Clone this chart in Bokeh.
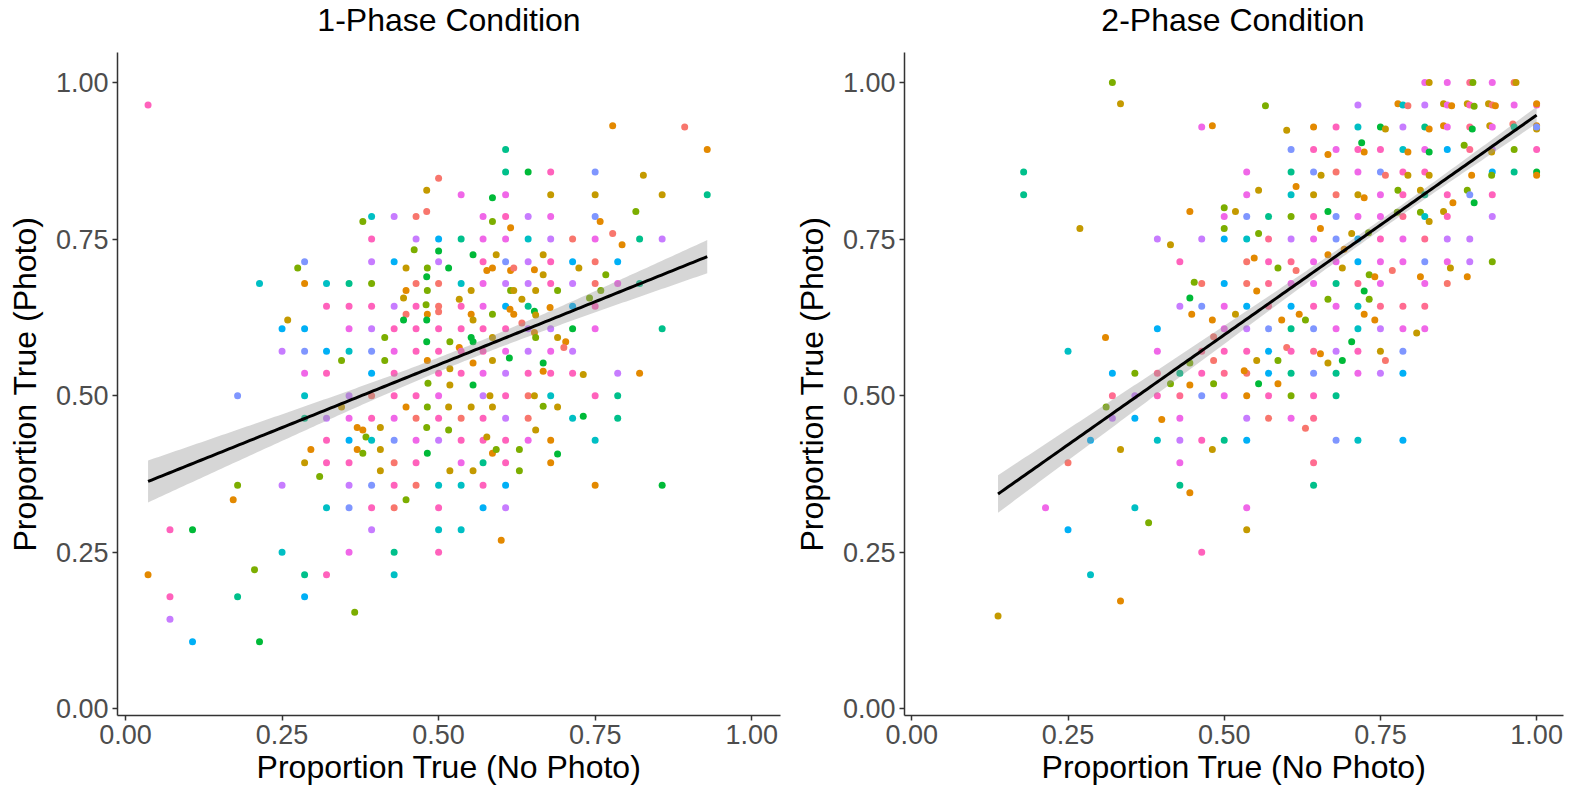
import numpy as np
from bokeh.plotting import figure
from bokeh.layouts import row, column
from bokeh.models import Range1d, FixedTicker, PrintfTickFormatter
from bokeh.core.properties import value
from bokeh.embed import file_html
from bokeh.resources import INLINE

# Axis ticks shared by both panels
tick_values = [0.0, 0.25, 0.5, 0.75, 1.0]

# ---- 1-Phase condition: proportion judged true without / with photo ----
one_phase_x = [
    .036, .286, .275, .214, .286, .321, .321, .259, .25, .286,
    .25, .286, .321, .286, .321, .179, .286, .286, .321, .321,
    .296, .286, .321, .310, .179, .25, .172, .321, .071, .107,
    .25, .036, .206, .286, .321, .071, .179, .286, .071, .107,
    .214, .5, .607, .607, .643, .481, .536, .586, .607, .481,
    .379, .393, .429, .464, .571, .586, .607, .643, .615, .393,
    .464, .5, .536, .571, .607, .643, .461, .5, .555, .592,
    .393, .429, .448, .482, .5, .516, .571, .607, .643, .577,
    .586, .615, .62, .481, .357, .393, .464, .5, .536, .571,
    .607, .643, .448, .482, .552, .615, .62, .444, .533, .48,
    .633, .357, .393, .429, .464, .5, .536, .571, .607, .643,
    .586, .614, .62, .448, .482, .5, .552, .555, .444, .481,
    .633, .357, .393, .429, .464, .5, .536, .571, .607, .414,
    .586, .552, .555, .481, .518, .533, .357, .393, .429, .464,
    .5, .536, .571, .607, .345, .414, .482, .518, .555, .586,
    .613, .393, .429, .5, .536, .571, .607, .643, .483, .518,
    .555, .357, .393, .429, .464, .5, .571, .582, .607, .643,
    .448, .482, .516, .552, .586, .345, .357, .393, .429, .464,
    .5, .536, .571, .607, .643, .37, .379, .407, .481, .516,
    .384, .393, .357, .429, .464, .5, .536, .571, .607, .643,
    .577, .37, .407, .379, .482, .586, .592, .629, .357, .429,
    .464, .536, .571, .607, .407, .518, .555, .629, .357, .393,
    .429, .464, .5, .536, .571, .607, .448, .357, .393, .429,
    .5, .571, .607, .393, .5, .536, .6, .357, .429, .5,
    .429, .366, .778, .893, .929, .679, .75, .827, .679, .75,
    .857, .929, .815, .679, .75, .758, .778, .793, .679, .714,
    .75, .821, .857, .667, .679, .714, .75, .786, .653, .667,
    .724, .767, .679, .714, .75, .786, .821, .655, .69, .759,
    .741, .678, .714, .75, .653, .655, .643, .679, .714, .75,
    .857, .653, .655, .69, .703, .7, .643, .679, .714, .667,
    .667, .679, .714, .731, .786, .821, .653, .679, .75, .786,
    .667, .69, .714, .731, .786, .655, .679, .75, .69, .679,
    .75, .857,
]
one_phase_y = [
    .964, .714, .704, .679, .679, .679, .643, .621, .607, .607,
    .571, .571, .571, .536, .536, .5, .5, .464, .464, .429,
    .414, .393, .393, .371, .357, .357, .334, .321, .286, .286,
    .25, .214, .222, .214, .214, .179, .179, .179, .143, .107,
    .107, .847, .893, .857, .857, .828, .821, .816, .821, .794,
    .778, .786, .786, .786, .786, .778, .786, .786, .768, .75,
    .75, .75, .75, .75, .75, .75, .733, .731, .725, .725,
    .714, .714, .704, .704, .714, .704, .714, .714, .714, .7,
    .704, .7, .704, .69, .679, .679, .679, .679, .679, .679,
    .679, .679, .668, .668, .668, .668, .668, .656, .654, .645,
    .654, .643, .643, .643, .643, .643, .643, .643, .643, .643,
    .63, .638, .63, .63, .63, .634, .63, .621, .621, .621,
    .616, .607, .607, .607, .607, .607, .607, .607, .607, .593,
    .593, .593, .586, .586, .586, .577, .571, .571, .571, .571,
    .571, .571, .571, .571, .556, .556, .556, .543, .552, .556,
    .56, .536, .536, .536, .536, .536, .536, .536, .52, .517,
    .517, .5, .5, .5, .5, .5, .5, .5, .5, .5,
    .482, .482, .482, .482, .482, .482, .464, .464, .464, .464,
    .464, .464, .464, .464, .464, .449, .445, .449, .449, .445,
    .434, .429, .429, .429, .429, .429, .429, .429, .429, .429,
    .434, .414, .414, .408, .408, .408, .414, .414, .393, .393,
    .393, .393, .393, .393, .38, .38, .38, .38, .357, .357,
    .357, .357, .357, .357, .357, .357, .334, .321, .321, .321,
    .321, .321, .321, .286, .286, .286, .269, .25, .25, .25,
    .214, .154, .931, .929, .893, .857, .857, .852, .821, .821,
    .821, .821, .794, .786, .786, .778, .759, .741, .75, .75,
    .75, .75, .75, .725, .714, .714, .714, .714, .701, .693,
    .704, .693, .679, .679, .679, .679, .679, .668, .668, .668,
    .656, .641, .643, .643, .635, .629, .607, .607, .607, .607,
    .607, .601, .593, .593, .586, .577, .571, .571, .571, .552,
    .539, .536, .536, .534, .536, .536, .5, .5, .5, .5,
    .483, .482, .464, .467, .464, .445, .429, .429, .407, .393,
    .357, .357,
]
one_phase_group = (
    "KPLCOCKYBB" "VPBMKPCTVK" "OYKLLVOCKG" "COLTKKTBVB"
    "GSTTGYMGMS" "LCVSMLKVOK" "VBTMMCLGGY" "VBYLVGKPVO"
    "OOSGTLSSCM" "VVOLYLYYYL" "YKKVKSKMBT" "LOOSOSOYGG"
    "SMVKKKKKKL" "YGGGLOCPMK" "KKKMLLOYOY" "GBKKKMVKLY"
    "GVSKKMVYKS" "OLYYYYMKMS" "KSKVSOOYLL" "LCBPMVKKKM"
    "YOYLGOLLKS" "KMTKYYYLVP" "KSCCKBLPKS" "KBVVCCOMTK"
    "CLOSOKPYYY" "YTLMPOSOVS" "MTVYKBSBOY" "YLKVSMTYLL"
    "LOBKGYVVGM" "TOLYOSVMVG" "OKKYVOYCKT" "LYCGTYOCGO"
    "OG"
)
# Fitted linear trend (ends of the line) and its 95% band half-widths
# at the left end, the narrowest point and the right end.
one_phase_fit_x = [0.036, 0.929]
one_phase_fit_y = [0.363, 0.722]
one_phase_band_x = [0.036, 0.54, 0.929]
one_phase_band_half = [0.0335, 0.011, 0.0265]

# ---- 2-Phase condition ----
two_phase_x = [
    .321, .334, .464, .179, .179, .445, .269, .393, .414, .464,
    .429, .452, .464, .445, .429, .464, .448, .393, .31, .25,
    .393, .445, .321, .357, .393, .429, .464, .414, .445, .321,
    .357, .393, .429, .464, .311, .321, .357, .4, .429, .286,
    .393, .429, .464, .334, .25, .429, .429, .445, .214, .357,
    .379, .25, .464, .286, .334, .138, .5, .536, .571, .607,
    .643, .679, .536, .571, .607, .643, .63, .5, .536, .679,
    .714, .481, .643, .643, .536, .536, .786, .566, .714, .481,
    .6, .643, .679, .714, .72, .724, .607, .643, .666, .679,
    .714, .536, .607, .643, .655, .679, .714, .555, .615, .536,
    .607, .643, .679, .714, .724, .5, .518, .5, .536, .571,
    .607, .643, .666, .679, .714, .5, .654, .555, .704, .5,
    .536, .571, .607, .643, .679, .714, .692, .536, .548, .571,
    .607, .643, .666, .679, .714, .586, .615, .689, .732, .5,
    .536, .571, .607, .643, .679, .714, .552, .724, .666, .732,
    .5, .536, .571, .607, .643, .679, .714, .518, .62, .724,
    .481, .592, .63, .5, .536, .571, .607, .643, .679, .714,
    .483, .704, .464, .5, .536, .571, .6, .607, .643, .654,
    .679, .714, .483, .552, .586, .666, .689, .5, .536, .532,
    .571, .607, .643, .679, .714, .483, .555, .586, .821, .828,
    .857, .893, .898, .929, .964, .967, .778, .786, .794, .821,
    .851, .857, .864, .889, .893, .9, .923, .929, .934, .964,
    1.0, 1.0, .75, .758, .786, .821, .828, .851, .857, .893,
    .897, .925, .929, .962, .964, 1.0, 1.0, 1.0, .75, .786,
    .794, .821, .828, .857, .884, .893, .929, .928, .964, 1.0,
    .75, .758, .786, .794, .821, .828, .896, .929, .928, .964,
    1.0, 1.0, .75, .778, .786, .814, .821, .857, .866, .889,
    .893, .9, .929, .75, .777, .786, .814, .821, .828, .851,
    .857, .929, .731, .75, .786, .821, .857, .893, .75, .786,
    .821, .857, .893, .929, .769, .862, .741, .814, .889, .75,
    .821, .857, .75, .786, .821, .741, .75, .786, .808, .821,
    .75, .786, .758, .75, .786,
]
two_phase_y = [
    1.0, .966, .929, .857, .821, .794, .767, .75, .741, .75,
    .714, .681, .679, .656, .643, .643, .63, .607, .593, .571,
    .571, .552, .536, .536, .536, .536, .536, .519, .517, .5,
    .5, .5, .5, .5, .482, .464, .464, .462, .464, .429,
    .429, .429, .429, .414, .393, .393, .357, .345, .321, .321,
    .297, .286, .25, .214, .172, .148, .5, .5, .5, .5,
    .5, .5, .464, .464, .464, .464, .448, .429, .429, .429,
    .429, .414, .393, .357, .321, .286, .429, .963, .964, .931,
    .924, .929, .929, .929, .904, .889, .893, .893, .885, .893,
    .893, .857, .857, .857, .852, .857, .857, .828, .834, .821,
    .821, .821, .821, .821, .816, .8, .794, .786, .786, .786,
    .786, .786, .794, .786, .786, .767, .767, .759, .759, .75,
    .75, .75, .75, .75, .75, .75, .734, .714, .72, .714,
    .714, .714, .725, .714, .714, .704, .7, .704, .693, .679,
    .679, .679, .679, .679, .679, .679, .667, .667, .654, .654,
    .643, .643, .643, .643, .643, .643, .643, .63, .63, .63,
    .621, .621, .621, .607, .607, .607, .607, .607, .607, .607,
    .594, .586, .571, .571, .571, .571, .577, .571, .571, .567,
    .571, .571, .556, .556, .556, .552, .556, .536, .536, .54,
    .536, .536, .536, .536, .536, .519, .519, .519, 1.0, 1.0,
    1.0, 1.0, 1.0, 1.0, 1.0, 1.0, .966, .964, .963, .964,
    .966, .964, .963, .966, .964, .962, .966, .964, .963, .964,
    .964, .966, .929, .926, .929, .929, .926, .931, .929, .929,
    .926, .931, .929, .934, .929, .931, .926, .929, .893, .893,
    .889, .893, .889, .893, .9, .893, .893, .889, .893, .893,
    .857, .852, .857, .852, .857, .852, .852, .857, .852, .857,
    .857, .852, .821, .828, .821, .828, .821, .821, .808, .828,
    .821, .808, .821, .786, .793, .786, .793, .786, .778, .794,
    .786, .786, .76, .75, .75, .75, .75, .75, .714, .714,
    .714, .714, .714, .714, .7, .704, .69, .69, .69, .679,
    .679, .679, .643, .643, .643, .621, .607, .607, .6, .607,
    .571, .571, .556, .536, .536,
]
two_phase_group = (
    "LYMTTOYVYV" "KLSGVPOBOC" "MLBLRTKLOR" "VKRPLVBOMB"
    "CVKYSMTOMC" "LBKCOYMOKL" "KTVSMRSTBP" "CYRTMYBLVO"
    "YOKCGOPKOM" "KMTPYSMYOM" "CYSYOLYMPT" "LKGPMLOLYB"
    "CRVMPBOSOK" "RMOMBLSYLB" "SRMMTROGLL" "MBRBKMCYOO"
    "OOLMVPTPMC" "SGRKKBSKRO" "VKSYLYGRSO" "BTPTMLGOMY"
    "MRLMSYOCSV" "YMOYKLYSOM" "KOGYVTOOMR" "GYMSTOYPKC"
    "OMGBLRVYLK" "PSKYKYOBLT" "GOMLKYTKOL" "PGKMLRLCYY"
    "KVLKMRVVMM" "PMVLSYOOOM" "MSRRROVMYM" "YPSVB"
)
two_phase_fit_x = [0.138, 1.0]
two_phase_fit_y = [0.343, 0.948]
two_phase_band_x = [0.138, 0.76, 1.0]
two_phase_band_half = [0.030, 0.008, 0.0135]

panel_titles = ["1-Phase Condition", "2-Phase Condition"]

group_colors = {
    "S": "#F8766D", "O": "#E38900", "Y": "#C49A00", "L": "#7CAE00",
    "G": "#00BA38", "T": "#00C08B", "C": "#00BFC4", "B": "#00B0F6",
    "P": "#7F96FF", "V": "#C77CFF", "M": "#F067E8", "K": "#FF62BC",
    "R": "#FF6C91",
}


def trend_band(fit_x, fit_y, band_x, band_half, n_pts=160):
    """Straight trend line with a confidence band that widens
    hyperbolically away from its narrowest point."""
    x0, x1 = fit_x
    slope = (fit_y[1] - fit_y[0]) / (x1 - x0)
    xs = np.linspace(x0, x1, n_pts)
    fit = fit_y[0] + slope * (xs - x0)
    xl, xc, xr = band_x
    hl, hc, hr = band_half
    k_left = np.sqrt(hl ** 2 - hc ** 2) / (xc - xl)
    k_right = np.sqrt(hr ** 2 - hc ** 2) / (xr - xc)
    k = np.where(xs < xc, k_left, k_right)
    half = np.sqrt(hc ** 2 + (k * (xs - xc)) ** 2)
    return xs, fit, fit - half, fit + half


FONT = "Liberation Sans"
HEIGHT = 787
HEAD_H = 52          # strip holding each panel's heading
BORDER_BOTTOM = 72


def make_heading(text, width, left, right):
    """Thin strip above a panel with its heading centred over the plot area."""
    h = figure(
        width=width, height=HEAD_H,
        x_range=Range1d(0, width), y_range=Range1d(0, HEAD_H),
        output_backend="svg", toolbar_location=None,
        x_axis_type=None, y_axis_type=None,
        min_border_left=0, min_border_right=0,
        min_border_top=0, min_border_bottom=0,
    )
    h.outline_line_color = None
    h.grid.visible = False
    h.text(
        x=[left + (width - left - right) / 2], y=[HEAD_H - 19], text=[text],
        text_align="center", text_baseline="alphabetic",
        text_font=value(FONT), text_font_size="32px", text_color="black",
    )
    return h


def make_panel(xs, ys, groups, fit, x_range, width, left, right):
    assert len(xs) == len(ys) == len(groups)
    p = figure(
        width=width, height=HEIGHT - HEAD_H,
        x_range=Range1d(*x_range), y_range=Range1d(-0.0107, 1.048),
        output_backend="svg", toolbar_location=None,
        min_border_left=left, min_border_right=right,
        min_border_top=0, min_border_bottom=BORDER_BOTTOM,
    )
    p.outline_line_color = None
    p.grid.visible = False
    p.background_fill_color = "white"
    p.border_fill_color = "white"

    for ax in (p.xaxis[0], p.yaxis[0]):
        ax.ticker = FixedTicker(ticks=tick_values)
        ax.formatter = PrintfTickFormatter(format="%.2f")
        ax.axis_line_color = "#333333"
        ax.axis_line_width = 1.5
        ax.major_tick_line_color = "#333333"
        ax.major_tick_line_width = 1.5
        ax.major_tick_out = 5
        ax.major_tick_in = 0
        ax.minor_tick_line_color = None
        ax.major_label_text_font = FONT
        ax.major_label_text_font_size = "27px"
        ax.major_label_text_color = "#4D4D4D"
        ax.axis_label_text_font = FONT
        ax.axis_label_text_font_size = "32px"
        ax.axis_label_text_font_style = "normal"
        ax.axis_label_text_color = "black"
    p.xaxis.axis_label = "Proportion True (No Photo)"
    p.yaxis.axis_label = "Proportion True (Photo)"
    p.xaxis.major_label_standoff = 4
    p.xaxis.axis_label_standoff = 2
    p.yaxis.major_label_standoff = 4
    p.yaxis.axis_label_standoff = 10

    colors = [group_colors[g] for g in groups]
    p.scatter(xs, ys, size=7, fill_color=colors, line_color=None)

    fx, fy, lo, hi = trend_band(*fit)
    p.varea(x=fx, y1=lo, y2=hi, fill_color="#999999", fill_alpha=0.4)
    p.line(fx, fy, line_color="black", line_width=3)
    return p


h1 = make_heading(panel_titles[0], 790, 117, 10)
h2 = make_heading(panel_titles[1], 780, 112, 7)
p1 = make_panel(one_phase_x, one_phase_y, one_phase_group,
                (one_phase_fit_x, one_phase_fit_y, one_phase_band_x, one_phase_band_half),
                (-0.0128, 1.046), 790, 117, 10)
p2 = make_panel(two_phase_x, two_phase_y, two_phase_group,
                (two_phase_fit_x, two_phase_fit_y, two_phase_band_x, two_phase_band_half),
                (-0.0117, 1.043), 780, 112, 7)

layout = column(row(h1, h2), row(p1, p2))
open("out.html", "w").write(file_html(layout, INLINE))
